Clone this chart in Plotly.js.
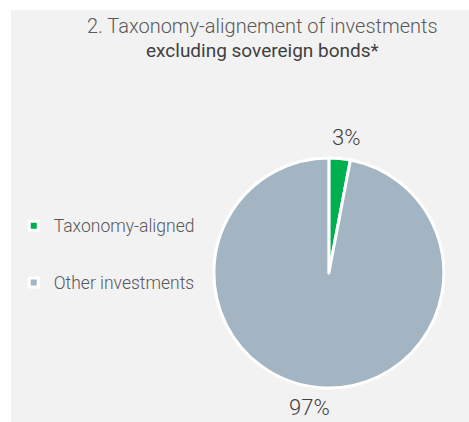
<!DOCTYPE html>
<html><head><meta charset="utf-8">
<script src="https://cdn.plot.ly/plotly-3.0.1.min.js"></script>
<style>
html,body{margin:0;padding:0;background:#ffffff;}
#chart{position:absolute;left:11px;top:10px;width:458px;height:412px;}
</style></head>
<body><div id="chart"></div>
<script>
const categories = ["Taxonomy-aligned", "Other investments"];
const values = [3, 97];
const colors = ["#00b050", "#a3b5c2"];
const titleLine1 = "2. Taxonomy-alignement of investments";
const titleLine2 = "excluding sovereign bonds*";
const labelPos = [[0.7314, 0.6917], [0.6507, 0.034]];

const LIGHT = "Roboto Light, Roboto, sans-serif";
const total = values.reduce((a, b) => a + b, 0);

const traces = [{
  type: "pie",
  labels: categories,
  values: values,
  sort: false,
  direction: "clockwise",
  rotation: 0,
  marker: {colors: colors, line: {color: "#ffffff", width: 3}},
  textinfo: "none",
  showlegend: false,
  hoverinfo: "label+percent",
  domain: {x: [0.443, 0.945], y: [0.0825, 0.641]}
}];
categories.forEach((c, i) => {
  traces.push({
    type: "scatter", mode: "markers", x: [null], y: [null], name: c,
    legendgroup: "g" + i,
    marker: {symbol: "square", size: 9, color: colors[i], line: {color: "#ffffff", width: 3}},
    showlegend: true, hoverinfo: "skip"
  });
});

const annotations = [
  {text: titleLine1, x: 0.55, y: 0.961, font: {family: LIGHT, size: 20, color: "#595959"}},
  {text: titleLine2, x: 0.55, y: 0.9005, font: {family: "Roboto, serif", size: 19, color: "#404040", weight: 400}}
].concat(values.map((v, i) => ({
  text: Math.round(v / total * 100) + "%",
  x: labelPos[i][0], y: labelPos[i][1],
  font: {family: LIGHT, size: 22, color: "#404040"}
}))).map(a => Object.assign({xref: "paper", yref: "paper", xanchor: "center", yanchor: "middle", showarrow: false}, a));

const layout = {
  width: 458, height: 412,
  margin: {l: 0, r: 0, t: 0, b: 0},
  paper_bgcolor: "#f2f2f2",
  plot_bgcolor: "rgba(0,0,0,0)",
  xaxis: {visible: false}, yaxis: {visible: false},
  annotations: annotations,
  legend: {
    x: 0.006, xanchor: "left", y: 0.52, yanchor: "top",
    font: {family: LIGHT, size: 17.5, color: "#595959"},
    tracegroupgap: 31, traceorder: "grouped",
    bgcolor: "rgba(0,0,0,0)", itemclick: false
  },
  showlegend: true
};
Plotly.newPlot("chart", traces, layout, {displayModeBar: false, staticPlot: true});
</script></body></html>
